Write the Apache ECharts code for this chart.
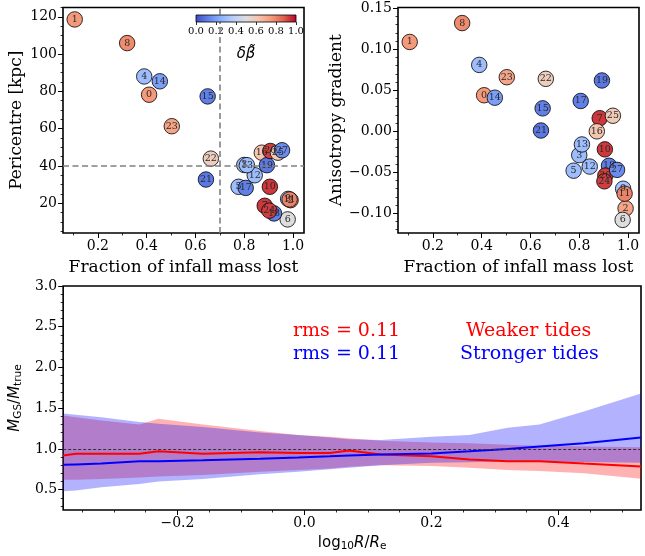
<!DOCTYPE html>
<html>
<head>
<meta charset="utf-8">
<script src="https://cdn.jsdelivr.net/npm/echarts@6/dist/echarts.min.js"></script>
<style>
  html, body { margin: 0; padding: 0; background: #fff; }
  #chart { width: 645px; height: 556px; }
</style>
</head>
<body>
<div id="chart"></div>
<script>
// satellites (label id, fraction of infall mass lost, pericentre, anisotropy gradient, delta beta)
const satIds      = [0, 1, 2, 3, 4, 5, 6, 7, 8, 9, 10, 11, 12, 13, 14, 15, 16, 17, 18, 19, 20, 21, 22, 23, 24, 25, 27];
const massLost    = [0.41, 0.105, 0.99, 0.80, 0.39, 0.777, 0.978, 0.884, 0.32, 0.98, 0.905, 0.986, 0.843, 0.811, 0.454, 0.65, 0.872, 0.806, 0.922, 0.893, 0.907, 0.643, 0.663, 0.503, 0.903, 0.938, 0.955];
const pericentre  = [78.2, 118.6, 21.6, 40.5, 88, 28.8, 11.3, 18.6, 105.9, 22.3, 28.8, 22, 35, 40.4, 85.4, 77.3, 47.1, 28.2, 14.5, 40.4, 48, 32.7, 43.9, 61.3, 16, 47.1, 48.4];
const anisoGrad   = [0.044, 0.109, -0.094, -0.029, 0.081, -0.048, -0.108, 0.016, 0.132, -0.070, -0.022, -0.076, -0.043, -0.016, 0.041, 0.028, 0.0, 0.037, -0.042, 0.062, -0.054, 0.001, 0.064, 0.066, -0.061, 0.019, -0.047];
const deltaBeta   = [0.75, 0.75, 0.72, 0.3, 0.3, 0.3, 0.5, 0.93, 0.78, 0.33, 0.93, 0.8, 0.3, 0.3, 0.2, 0.12, 0.62, 0.12, 0.12, 0.1, 0.92, 0.1, 0.58, 0.72, 0.92, 0.6, 0.15];
const massCut = 0.7;
const periCut = 40;

// mass ratio vs radius
const logR      = [-0.38, -0.36, -0.32, -0.26, -0.23, -0.16, -0.07, -0.01, 0.04, 0.07, 0.12, 0.2, 0.26, 0.32, 0.37, 0.44, 0.53];
const weakMed   = [0.92, 0.94, 0.94, 0.94, 0.97, 0.94, 0.96, 0.95, 0.95, 0.98, 0.93, 0.91, 0.87, 0.85, 0.85, 0.82, 0.785];
const weakLo    = [0.62, 0.62, 0.63, 0.65, 0.66, 0.68, 0.72, 0.74, 0.76, 0.78, 0.80, 0.79, 0.77, 0.74, 0.73, 0.70, 0.635];
const weakHi    = [1.41, 1.39, 1.35, 1.30, 1.37, 1.30, 1.22, 1.17, 1.15, 1.13, 1.10, 1.08, 1.07, 1.05, 1.04, 1.03, 1.02];
const strongMed = [0.805, 0.81, 0.82, 0.85, 0.85, 0.86, 0.88, 0.895, 0.91, 0.92, 0.93, 0.945, 0.97, 1.0, 1.03, 1.07, 1.14];
const strongLo  = [0.48, 0.49, 0.53, 0.57, 0.60, 0.63, 0.69, 0.72, 0.75, 0.77, 0.80, 0.83, 0.835, 0.845, 0.845, 0.84, 0.83];
const strongHi  = [1.435, 1.42, 1.39, 1.33, 1.31, 1.27, 1.20, 1.17, 1.14, 1.12, 1.11, 1.15, 1.17, 1.26, 1.30, 1.46, 1.68];

// tick labels
const fracTicks  = [0.2, 0.4, 0.6, 0.8, 1.0];
const periTicks  = [20, 40, 60, 80, 100, 120];
const anisoTicks = [-0.10, -0.05, 0.00, 0.05, 0.10, 0.15];
const logRTicks  = [-0.2, 0.0, 0.2, 0.4];
const ratioTicks = [0.5, 1.0, 1.5, 2.0, 2.5, 3.0];
const cbarTicks  = [0.0, 0.2, 0.4, 0.6, 0.8, 1.0];

const coolwarm = ['#3b4cc0', '#6282ea', '#8db0fe', '#b8d0f9', '#dddddd', '#f5c4ad', '#f49a7b', '#de604d', '#b40426'];
const serif = '"DejaVu Serif", serif';

function fmt(dec) {
  return v => (v < 0 ? '\u2212' : '') + Math.abs(v).toFixed(dec);
}
function steps(min, max, step) {
  let out = [];
  let start = Math.ceil(min / step - 1e-9);
  for (let k = start; k * step <= max + 1e-9; k++) out.push(+(k * step).toFixed(6));
  return out;
}

// major axis + minor-tick axis on the same side
function axes(grid, pos, min, max, majors, minorStep, dec, name, nameGap, nameStyle) {
  let major = {
    type: 'value', gridIndex: grid, position: pos, min: min, max: max,
    name: name, nameLocation: 'middle', nameGap: nameGap,
    nameTextStyle: Object.assign({ fontFamily: serif, fontSize: 17, color: '#000' }, nameStyle || {}),
    axisLine: { show: false, onZero: false },
    splitLine: { show: false },
    axisTick: { show: true, customValues: majors, length: 5, lineStyle: { color: '#000', width: 1 } },
    axisLabel: { customValues: majors, formatter: fmt(dec), fontFamily: serif, fontSize: 14, color: '#000', margin: 6 }
  };
  let minor = {
    type: 'value', gridIndex: grid, position: pos, min: min, max: max,
    axisLine: { show: false, onZero: false },
    splitLine: { show: false },
    axisLabel: { show: false },
    axisTick: { show: true, customValues: steps(min, max, minorStep), length: 2.5, lineStyle: { color: '#000', width: 0.8 } }
  };
  return [major, minor];
}

let leftPts = satIds.map((id, i) => [massLost[i], pericentre[i], deltaBeta[i], id]);
let rightPts = satIds.map((id, i) => [massLost[i], anisoGrad[i], deltaBeta[i], id]);

let mathRich = {
  n: { fontFamily: 'DejaVu Sans', fontSize: 15, color: '#000' },
  i: { fontFamily: 'DejaVu Sans', fontStyle: 'italic', fontSize: 15, color: '#000' },
  s: { fontFamily: 'DejaVu Sans', fontSize: 10.5, color: '#000', verticalAlign: 'bottom', padding: [6, 0, 0, 0] }
};

let xAxes = [].concat(
  axes(0, 'bottom', 0.057, 1.045, fracTicks, 0.1, 1, 'Fraction of infall mass lost', 26),
  axes(1, 'bottom', 0.057, 1.045, fracTicks, 0.1, 1, 'Fraction of infall mass lost', 26),
  axes(2, 'bottom', -0.38, 0.53, logRTicks, 0.05, 1, '{n|log}{s|10}{i|R}{n|/}{i|R}{s|e}', 25, { rich: mathRich })
);
// colorbar axis
xAxes.push({
  type: 'value', gridIndex: 3, position: 'bottom', min: 0, max: 1,
  name: '\u03b4\u03b2\u0303', nameLocation: 'middle', nameGap: 25,
  nameTextStyle: { fontFamily: 'DejaVu Sans', fontStyle: 'italic', fontSize: 15, color: '#000' },
  axisLine: { show: false, onZero: false }, splitLine: { show: false },
  axisTick: { show: true, customValues: cbarTicks, length: 3, lineStyle: { color: '#000', width: 0.8 } },
  axisLabel: { customValues: cbarTicks, formatter: fmt(1), fontFamily: serif, fontSize: 10, color: '#000', margin: 4 }
});

let yAxes = [].concat(
  axes(0, 'left', 4, 125, periTicks, 5, 0, 'Pericentre [kpc]', 38),
  axes(1, 'left', -0.124, 0.151, anisoTicks, 0.01, 2, 'Anisotropy gradient', 51),
  axes(2, 'left', 0.25, 3.0, ratioTicks, 0.1, 1, '{i|M}{s|GS}{n|/}{i|M}{s|true}', 27, { rich: mathRich })
);
yAxes.push({ type: 'value', gridIndex: 3, min: 0, max: 1, show: false });

function scatterSeries(xi, yi, pts) {
  return {
    type: 'scatter', xAxisIndex: xi, yAxisIndex: yi, data: pts, z: 3,
    symbolSize: 15.5,
    itemStyle: { borderColor: '#000', borderWidth: 0.8, opacity: 1 },
    label: {
      show: true, position: 'inside', formatter: p => p.value[3],
      fontFamily: serif, fontSize: 9.5, color: '#2a2a2a'
    },
    emphasis: { disabled: true }
  };
}

// shaded band between lo and hi, one polygon through the axis scales
function bandSeries(lo, hi, color) {
  return {
    type: 'custom', xAxisIndex: 4, yAxisIndex: 4, z: 1, silent: true,
    data: logR.map((x, i) => [x, lo[i], hi[i]]),
    encode: { x: 0, y: [1, 2] },
    renderItem: function (params, api) {
      if (params.dataIndex !== 0) return null;
      let pts = [];
      for (let i = 0; i < logR.length; i++) pts.push(api.coord([logR[i], lo[i]]));
      for (let i = logR.length - 1; i >= 0; i--) pts.push(api.coord([logR[i], hi[i]]));
      return { type: 'polygon', shape: { points: pts }, style: { fill: color } };
    }
  };
}

function medianSeries(med, color) {
  return {
    type: 'line', xAxisIndex: 4, yAxisIndex: 4, symbol: 'none', z: 4,
    lineStyle: { color: color, width: 2 },
    data: logR.map((x, i) => [x, med[i]])
  };
}

let series = [
  scatterSeries(0, 0, leftPts),
  {
    type: 'line', xAxisIndex: 0, yAxisIndex: 0, data: [], z: 1,
    markLine: {
      silent: true, symbol: ['none', 'none'], label: { show: false },
      lineStyle: { color: '#808080', type: [6, 3.5], width: 1.6 },
      data: [{ xAxis: massCut }, { yAxis: periCut }]
    }
  },
  scatterSeries(2, 2, rightPts),
  bandSeries(weakLo, weakHi, 'rgba(255,0,0,0.3)'),
  bandSeries(strongLo, strongHi, 'rgba(0,0,255,0.3)'),
  {
    type: 'line', xAxisIndex: 4, yAxisIndex: 4, data: [], z: 5,
    markLine: {
      silent: true, symbol: ['none', 'none'], label: { show: false },
      lineStyle: { color: '#333', type: [3, 2], width: 1 },
      data: [{ yAxis: 1.0 }]
    }
  },
  medianSeries(weakMed, '#ff0000'),
  medianSeries(strongMed, '#0000ff')
];

let frame = { show: true, borderColor: '#000', borderWidth: 1.6, backgroundColor: 'transparent' };

let chart = echarts.init(document.getElementById('chart'), null, { renderer: 'canvas' });
chart.setOption({
  animation: false,
  grid: [
    Object.assign({ left: 63, top: 7.5, width: 241, height: 225.5 }, frame),
    Object.assign({ left: 398, top: 7.5, width: 241, height: 225.5 }, frame),
    Object.assign({ left: 60, top: 286, width: 581, height: 224 }, frame),
    {
      left: 196, top: 15, width: 100, height: 7, show: true, borderColor: '#000', borderWidth: 0.8, z: 10,
      backgroundColor: new echarts.graphic.LinearGradient(0, 0, 1, 0,
        coolwarm.map((c, i) => ({ offset: i / (coolwarm.length - 1), color: c })))
    }
  ],
  xAxis: xAxes,
  yAxis: yAxes,
  visualMap: {
    type: 'continuous', show: false, min: 0, max: 1, dimension: 2,
    seriesIndex: [0, 2], inRange: { color: coolwarm }
  },
  graphic: [
    { type: 'text', left: 293, top: 322, style: { text: 'rms = 0.11', fill: '#ff0000', font: '19px "DejaVu Serif"' } },
    { type: 'text', left: 293, top: 345, style: { text: 'rms = 0.11', fill: '#0000ff', font: '19px "DejaVu Serif"' } },
    { type: 'text', left: 466, top: 322, style: { text: 'Weaker tides', fill: '#ff0000', font: '19px "DejaVu Serif"' } },
    { type: 'text', left: 460, top: 345, style: { text: 'Stronger tides', fill: '#0000ff', font: '19px "DejaVu Serif"' } }
  ],
  series: series
});
</script>
</body>
</html>
